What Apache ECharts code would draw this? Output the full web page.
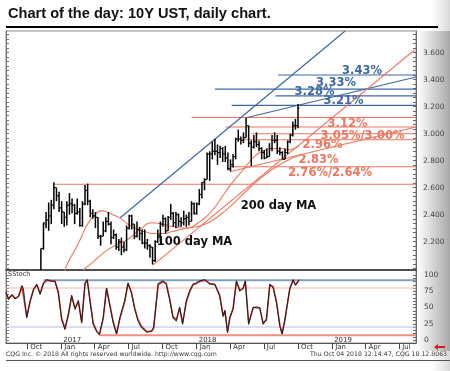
<!DOCTYPE html>
<html><head><meta charset="utf-8">
<script src="https://cdn.jsdelivr.net/npm/echarts@6/dist/echarts.min.js"></script>
<style>html,body{margin:0;padding:0;background:#fff;overflow:hidden}#c{width:450px;height:371px}</style>
</head><body><div id="c"></div><script>
// ---- price (weekly OHLC, yield %) ----
var weekDates = ['2016-11-07','2016-11-14','2016-11-21','2016-11-28','2016-12-05','2016-12-12','2016-12-19','2016-12-26',
'2017-01-02','2017-01-09','2017-01-16','2017-01-23','2017-01-30','2017-02-06','2017-02-13','2017-02-20','2017-02-27','2017-03-06','2017-03-13','2017-03-20','2017-03-27',
'2017-04-03','2017-04-10','2017-04-17','2017-04-24','2017-05-01','2017-05-08','2017-05-15','2017-05-22','2017-05-29','2017-06-05','2017-06-12','2017-06-19','2017-06-26',
'2017-07-03','2017-07-10','2017-07-17','2017-07-24','2017-07-31','2017-08-07','2017-08-14','2017-08-21','2017-08-28','2017-09-04','2017-09-11','2017-09-18','2017-09-25',
'2017-10-02','2017-10-09','2017-10-16','2017-10-23','2017-10-30','2017-11-06','2017-11-13','2017-11-20','2017-11-27','2017-12-04','2017-12-11','2017-12-18','2017-12-25',
'2018-01-01','2018-01-08','2018-01-15','2018-01-22','2018-01-29','2018-02-05','2018-02-12','2018-02-19','2018-02-26','2018-03-05','2018-03-12','2018-03-19','2018-03-26',
'2018-04-02','2018-04-09','2018-04-16','2018-04-23','2018-04-30','2018-05-07','2018-05-14','2018-05-21','2018-05-28','2018-06-04','2018-06-11','2018-06-18','2018-06-25',
'2018-07-02','2018-07-09','2018-07-16','2018-07-23','2018-07-30','2018-08-06','2018-08-13','2018-08-20','2018-08-27','2018-09-03','2018-09-10','2018-09-17','2018-09-24','2018-10-01'];
var opens  = [1.78,2.15,2.33,2.36,2.39,2.47,2.60,2.54, 2.45,2.42,2.38,2.47,2.48,2.47,2.41,2.42,2.32,2.48,2.58,2.50,2.41, 2.39,2.38,2.24,2.24,2.28,2.35,2.33,2.23,2.25,2.16,2.20,2.16,2.14, 2.30,2.39,2.33,2.24,2.29,2.26,2.19,2.19,2.17,2.16,2.06,2.20,2.25, 2.33,2.37,2.28,2.38,2.41,2.34,2.40,2.35,2.34,2.37,2.38,2.35,2.48, 2.41,2.48,2.55,2.64,2.66,2.85,2.85,2.87,2.87,2.86,2.89,2.85,2.82, 2.74,2.77,2.83,2.96,2.96,2.95,2.97,3.06,2.93,2.90,2.94,2.92,2.89, 2.86,2.82,2.83,2.89,2.95,2.95,2.87,2.86,2.81,2.86,2.94,2.99,3.06,3.06];
var highs  = [2.15,2.34,2.42,2.49,2.51,2.64,2.60,2.57, 2.50,2.42,2.50,2.56,2.52,2.48,2.52,2.45,2.50,2.62,2.63,2.51,2.44, 2.42,2.38,2.25,2.35,2.38,2.42,2.35,2.29,2.26,2.22,2.23,2.20,2.32, 2.40,2.40,2.33,2.35,2.31,2.29,2.29,2.22,2.18,2.16,2.21,2.29,2.35, 2.40,2.38,2.39,2.48,2.42,2.42,2.41,2.38,2.43,2.40,2.42,2.50,2.49, 2.49,2.59,2.64,2.67,2.86,2.87,2.94,2.96,2.92,2.91,2.90,2.91,2.86, 2.81,2.85,2.97,3.03,2.98,3.01,3.12,3.06,2.95,2.99,3.01,2.95,2.90, 2.88,2.89,2.93,2.99,3.01,2.99,2.90,2.87,2.89,2.95,3.00,3.09,3.11,3.22];
var lows   = [1.76,2.14,2.30,2.28,2.33,2.44,2.50,2.42, 2.33,2.31,2.32,2.40,2.41,2.33,2.40,2.31,2.31,2.47,2.47,2.38,2.37, 2.30,2.22,2.17,2.24,2.27,2.32,2.18,2.22,2.14,2.13,2.10,2.12,2.13, 2.29,2.29,2.22,2.23,2.21,2.18,2.15,2.14,2.08,2.03,2.05,2.19,2.20, 2.31,2.26,2.28,2.36,2.31,2.30,2.31,2.31,2.32,2.31,2.32,2.35,2.40, 2.40,2.47,2.52,2.58,2.66,2.65,2.81,2.84,2.77,2.82,2.79,2.79,2.73, 2.72,2.75,2.81,2.94,2.92,2.93,2.97,2.90,2.76,2.89,2.90,2.87,2.81, 2.81,2.82,2.83,2.87,2.93,2.85,2.84,2.81,2.81,2.85,2.93,2.98,3.03,3.04];
var closes = [2.15,2.34,2.36,2.39,2.47,2.60,2.54,2.45, 2.42,2.38,2.47,2.48,2.47,2.41,2.42,2.32,2.48,2.58,2.50,2.41,2.39, 2.38,2.24,2.24,2.28,2.35,2.33,2.23,2.25,2.16,2.20,2.16,2.14,2.30, 2.39,2.33,2.24,2.29,2.26,2.19,2.19,2.17,2.16,2.06,2.20,2.25,2.33, 2.37,2.28,2.38,2.41,2.34,2.40,2.35,2.34,2.37,2.38,2.35,2.48,2.41, 2.48,2.55,2.64,2.66,2.85,2.85,2.87,2.87,2.86,2.89,2.85,2.82,2.74, 2.77,2.83,2.96,2.96,2.95,2.97,3.06,2.93,2.90,2.94,2.92,2.89,2.86, 2.82,2.83,2.89,2.95,2.95,2.87,2.86,2.81,2.86,2.94,2.99,3.06,3.06,3.19];

// ---- moving averages ----
var ma100Dates = ['2016-12-20','2017-01-05','2017-01-20','2017-02-05','2017-02-20','2017-03-05','2017-03-20','2017-04-05','2017-04-20','2017-05-05','2017-05-20','2017-06-05','2017-06-20','2017-07-05','2017-07-20','2017-08-05','2017-08-20','2017-09-05','2017-09-20','2017-10-05','2017-10-20','2017-11-05','2017-11-20','2017-12-05','2017-12-20','2018-01-05','2018-01-20','2018-02-05','2018-02-20','2018-03-05','2018-03-20','2018-04-05','2018-04-20','2018-05-05','2018-05-20','2018-06-05','2018-06-20','2018-07-05','2018-07-20','2018-08-05','2018-08-20','2018-09-05','2018-09-20','2018-10-04'];
var ma100Vals  = [1.88,1.96,2.05,2.13,2.21,2.29,2.36,2.41,2.43,2.42,2.40,2.38,2.35,2.32,2.30,2.28,2.27,2.26,2.26,2.26,2.27,2.28,2.29,2.30,2.31,2.34,2.37,2.41,2.46,2.51,2.57,2.63,2.68,2.73,2.78,2.83,2.86,2.88,2.89,2.89,2.89,2.88,2.89,2.91];
var ma200Dates = ['2017-03-01','2017-04-01','2017-05-01','2017-06-01','2017-07-01','2017-08-01','2017-09-01','2017-10-01','2017-11-01','2017-12-01','2018-01-01','2018-02-01','2018-03-01','2018-04-01','2018-05-01','2018-06-01','2018-07-01','2018-08-01','2018-09-01','2018-10-04'];
var ma200Vals  = [1.99,2.06,2.13,2.18,2.22,2.29,2.34,2.33,2.31,2.30,2.31,2.34,2.39,2.46,2.54,2.62,2.69,2.75,2.80,2.84];

// ---- horizontal levels ----
var blueLevels = [3.435, 3.33, 3.28, 3.21];
var blueStarts = ['2018-08-08','2018-02-19','2018-08-01','2018-04-05'];
var redLevels  = [3.12, 3.05, 3.00, 2.955, 2.755, 2.625];
var redStarts  = ['2017-12-18','2018-03-20','2018-05-29','2018-05-01','2018-04-02','2016-12-14'];
var lineEnd = '2019-08-15';

// ---- trendlines [startDate, startVal], [endDate, endVal] ----
var blueTrend1 = [['2017-06-08', 2.375], ['2019-02-05', 3.761]];
var blueTrend2 = [['2018-05-17', 3.12], ['2019-08-15', 3.42]];
var redTrend1  = [['2017-09-07', 2.03], ['2019-08-11', 3.62]];
var redTrend2  = [['2018-04-02', 2.72], ['2019-08-15', 3.05]];

// ---- slow stochastic ----
var stochDates = ['2016-08-05','2016-08-12','2016-08-21','2016-08-30','2016-09-08','2016-09-17','2016-09-21','2016-09-30','2016-10-09','2016-10-18','2016-10-27','2016-11-05','2016-11-14','2016-11-23','2016-12-06','2016-12-15','2016-12-24',
'2017-01-02','2017-01-11','2017-01-20','2017-01-29','2017-02-07','2017-02-16','2017-02-25','2017-03-06','2017-03-12','2017-03-20','2017-03-28','2017-04-07','2017-04-14','2017-04-24','2017-05-03','2017-05-12','2017-05-21','2017-05-30','2017-06-08','2017-06-21','2017-06-30',
'2017-07-09','2017-07-18','2017-07-27','2017-08-05','2017-08-19','2017-09-01','2017-09-07','2017-09-19','2017-10-02','2017-10-11','2017-10-20','2017-10-29','2017-11-07','2017-11-16','2017-11-24','2017-12-04','2017-12-13','2017-12-22','2017-12-31',
'2018-01-09','2018-01-23','2018-02-05','2018-02-19','2018-03-04','2018-03-13','2018-03-18','2018-03-25','2018-03-31','2018-04-09','2018-04-18','2018-04-27','2018-05-06','2018-05-12','2018-05-21','2018-06-02','2018-06-11','2018-06-20','2018-06-29',
'2018-07-08','2018-07-17','2018-07-26','2018-08-04','2018-08-13','2018-08-19','2018-08-26','2018-09-09','2018-09-18','2018-09-24','2018-10-04'];
var stochK = [74,62,70,63,68,84,79,34,60,78,86,70,88,93,90,91,72, 31,16,40,69,47,61,26,88,93,57,24,12,8,35,80,52,26,9,35,61,88, 72,47,29,19,12,14,20,87,91,85,62,34,29,51,24,61,76,86,88, 91,93,86,86,67,36,46,11,35,47,91,75,80,91,24, 51,49,50,24,33,86,80,57,21,9,30,80,93,84,93];
var stochD = [72,64,69,64,67,82,80,36,59,77,85,72,87,92,91,90,74, 33,18,38,67,49,59,28,87,92,59,26,13,9,33,79,54,28,10,33,59,87, 74,49,31,21,13,13,18,85,90,87,64,36,31,49,26,59,74,85,87, 90,92,87,85,69,38,44,13,33,49,90,77,79,90,26, 49,51,49,26,31,85,82,59,23,10,28,79,92,85,92];

var stochHi = 92, stochLo = 7.5, stochBlueStart = '2016-11-14', stochRedStart = '2017-04-14';

var yTicks = [2.2, 2.4, 2.6, 2.8, 3.0, 3.2, 3.4, 3.6];
var stochTicks = [0, 25, 50, 75, 100];
var monthNames = ['Jan','Feb','Mar','Apr','May','Jun','Jul','Aug','Sep','Oct','Nov','Dec'];
var quarterTicks = ['2016-10-01','2017-01-01','2017-04-01','2017-07-01','2017-10-01','2018-01-01','2018-04-01','2018-07-01','2018-10-01','2019-01-01','2019-04-01','2019-07-01'];

function ts(s){ var p = s.split('-'); return new Date(+p[0], +p[1]-1, +p[2]).getTime(); }
var qTs = quarterTicks.map(ts);
var minorY = []; for (var k = 0; k <= 52; k++) minorY.push(2.0 + k / 30);
var minorS = []; for (var k = 0; k <= 20; k++) minorS.push(k * 5);

var X0 = ts('2016-08-05'), X1 = ts('2019-08-15');
var RED = '#ee765d', BLUE = '#3c68a6';

function seg(pts, color, w, xi, yi){
  return {type:'line', xAxisIndex:xi||0, yAxisIndex:yi||0, data:pts.map(function(p){return [ts(p[0]), p[1]];}),
    symbol:'none', lineStyle:{color:color, width:w||1}, silent:true, animation:false, clip:true, z:3};
}

var series = [];
blueLevels.forEach(function(v,i){ series.push(seg([[blueStarts[i], v],[lineEnd, v]], BLUE, 1.2)); });
redLevels.forEach(function(v,i){ series.push(seg([[redStarts[i], v],[lineEnd, v]], RED, 1.1)); });
series.push(seg(blueTrend1, BLUE, 1.2), seg(blueTrend2, BLUE, 1.2), seg(redTrend1, RED, 1.1), seg(redTrend2, RED, 1.1));
series.push({type:'line', data: ma100Dates.map(function(d,i){return [ts(d), ma100Vals[i]];}), smooth:true, symbol:'none', lineStyle:{color:RED,width:1.1}, clip:true, animation:false, z:3});
series.push({type:'line', data: ma200Dates.map(function(d,i){return [ts(d), ma200Vals[i]];}), smooth:true, symbol:'none', lineStyle:{color:RED,width:1.1}, clip:true, animation:false, z:3});
series.push({type:'custom', xAxisIndex:0, yAxisIndex:0, clip:true, animation:false, z:5,
  data: weekDates.map(function(d,i){ return [ts(d), opens[i], highs[i], lows[i], closes[i]]; }),
  encode:{x:0, y:[1,2,3,4]},
  renderItem:function(params, api){
    var x = api.value(0);
    var o = api.coord([x, api.value(1)]), h = api.coord([x, api.value(2)]),
        l = api.coord([x, api.value(3)]), c = api.coord([x, api.value(4)]);
    var st = {stroke:'#000', lineWidth:1.5};
    var st2 = {stroke:'#000', lineWidth:1};
    return {type:'group', children:[
      {type:'line', shape:{x1:h[0], y1:h[1], x2:l[0], y2:l[1]}, style:st},
      {type:'line', shape:{x1:o[0]-1.5, y1:o[1], x2:o[0], y2:o[1]}, style:st2},
      {type:'line', shape:{x1:c[0], y1:c[1], x2:c[0]+1.5, y2:c[1]}, style:st2}
    ]};
  }
});
// stochastic panel
series.push(seg([['2016-08-05',80],[lineEnd,80]], '#f4b4ac', 1, 1, 2));
series.push(seg([['2016-08-05',20],[lineEnd,20]], '#b8b8e8', 1, 1, 2));
series.push(seg([[stochBlueStart,stochHi],[lineEnd,stochHi]], '#7f9fc4', 2, 1, 2));
series.push(seg([[stochRedStart,stochLo],[lineEnd,stochLo]], '#f09080', 2, 1, 2));
series.push({type:'line', xAxisIndex:1, yAxisIndex:2, data: stochDates.map(function(d,i){return [ts(d), stochD[i]];}), symbol:'none', lineStyle:{color:'#c0302a', width:1.5}, clip:true, animation:false, z:4});
series.push({type:'line', xAxisIndex:1, yAxisIndex:2, data: stochDates.map(function(d,i){return [ts(d), stochK[i]];}), symbol:'none', lineStyle:{color:'#1a1a1a', width:0.9}, clip:true, animation:false, z:5});

var FONT = 'DejaVu Sans';
var LF = 'bold 11.5px "DejaVu Sans"';
function lbl(x, y, t, c){ return {type:'text', silent:true, z:10, style:{x:x, y:y, text:t, font:LF, fill:c, textAlign:'center', textVerticalAlign:'middle'}}; }
var chart = echarts.init(document.getElementById('c'), null, {renderer:'canvas'});
chart.setOption({
  animation:false,
  backgroundColor:'#fff',
  grid:[
    {left:6, top:31, width:410, height:239, show:true, borderColor:'#8a8a8a', borderWidth:1, backgroundColor:'transparent'},
    {left:6, top:270, width:410, height:73, show:true, borderColor:'#8a8a8a', borderWidth:1, backgroundColor:'transparent'}
  ],
  xAxis:[
    {type:'value', gridIndex:0, min:X0, max:X1, axisLine:{show:true, onZero:false, lineStyle:{color:'#333', width:1.5}}, axisTick:{show:false}, axisLabel:{show:false}, splitLine:{show:false}},
    {type:'value', gridIndex:1, min:X0, max:X1, axisLine:{show:true, onZero:false, lineStyle:{color:'#555', width:1}},
      axisTick:{show:true, customValues:qTs, length:6, lineStyle:{color:'#444'}},
      axisLabel:{show:true, customValues:qTs, margin:1, align:'left', padding:[0,0,0,3], fontSize:7, fontFamily:FONT, color:'#333', hideOverlap:false,
        formatter:function(v){ return monthNames[new Date(v).getMonth()]; }}, splitLine:{show:false}},
    {type:'value', gridIndex:1, min:X0, max:X1, position:'bottom', axisLine:{show:false, onZero:false}, axisTick:{show:false},
      axisLabel:{show:true, inside:true, customValues:qTs, margin:-1, align:'left', padding:[0,0,0,2], fontSize:7, fontFamily:FONT, color:'#333',
        formatter:function(v){ var d = new Date(v); return d.getMonth() === 0 ? String(d.getFullYear()) : ''; }}, splitLine:{show:false}}
  ],
  yAxis:[
    {type:'value', gridIndex:0, position:'right', min:1.99, max:3.761, axisLine:{show:true, lineStyle:{color:'#666'}},
      axisTick:{show:true, inside:true, length:3, customValues:minorY, lineStyle:{color:'#666'}},
      axisLabel:{show:true, customValues:yTicks, margin:7, fontSize:7.5, fontFamily:FONT, color:'#444', formatter:function(v){return v.toFixed(3);}}, splitLine:{show:false}},
    {type:'value', gridIndex:0, position:'left', min:1.99, max:3.761, axisLine:{show:true, lineStyle:{color:'#777'}},
      axisTick:{show:true, inside:true, length:3, customValues:minorY, lineStyle:{color:'#777'}}, axisLabel:{show:false}, splitLine:{show:false}},
    {type:'value', gridIndex:1, position:'right', min:-4.6, max:107.7, axisLine:{show:true, lineStyle:{color:'#666'}},
      axisTick:{show:true, inside:true, length:3, customValues:minorS, lineStyle:{color:'#666'}},
      axisLabel:{show:true, customValues:stochTicks, margin:8, fontSize:7.5, fontFamily:FONT, color:'#444'}, splitLine:{show:false}},
    {type:'value', gridIndex:1, position:'left', min:-4.6, max:107.7, axisLine:{show:true, lineStyle:{color:'#777'}},
      axisTick:{show:true, inside:true, length:3, customValues:minorS, lineStyle:{color:'#777'}}, axisLabel:{show:false}, splitLine:{show:false}}
  ],
  series: series,
  graphic:[
    {type:'rect', z:-100, silent:true, shape:{x:417, y:31, width:33, height:320}, style:{fill:new echarts.graphic.LinearGradient(0,0,1,0,[{offset:0,color:'#ffffff'},{offset:1,color:'#a9a9a9'}])}},
    {type:'rect', z:-101, silent:true, shape:{x:432, y:0, width:18, height:371}, style:{fill:new echarts.graphic.LinearGradient(0,0,1,0,[{offset:0,color:'#ffffff'},{offset:1,color:'#d9d9d9'}])}},
    {type:'text', silent:true, style:{x:8, y:14, text:'Chart of the day: 10Y UST, daily chart.', font:'bold 14.6px "Liberation Sans"', fill:'#111', textVerticalAlign:'middle'}},
    {type:'rect', silent:true, shape:{x:6, y:26, width:432, height:2}, style:{fill:'#000'}},
    {type:'rect', silent:true, shape:{x:6, y:360, width:444, height:1}, style:{fill:'#555'}},
    {type:'text', silent:true, style:{x:6, y:354, text:'CQG Inc. \u00a9 2018 All rights reserved worldwide. http://www.cqg.com', font:'6.2px "DejaVu Sans"', fill:'#333', textVerticalAlign:'middle'}},
    {type:'text', silent:true, style:{x:447, y:354, text:'Thu Oct 04 2018 12:14:47, CQG 18.12.8063', font:'6.2px "DejaVu Sans"', fill:'#333', textAlign:'right', textVerticalAlign:'middle'}},
    {type:'text', silent:true, style:{x:8, y:274.5, text:'SStoch', font:'6.5px "DejaVu Sans"', fill:'#333', textVerticalAlign:'middle'}},
    {type:'polygon', silent:true, shape:{points:[[434,347],[438,344],[438,346],[445,346],[445,348],[438,348],[438,350]]}, style:{fill:'#d42020'}},
    lbl(362, 71.5, '3.43%', BLUE),
    lbl(336, 83.5, '3.33%', BLUE),
    lbl(314.5, 92.5, '3.28%', BLUE),
    lbl(343.5, 101.5, '3.21%', BLUE),
    lbl(347.5, 124.5, '3.12%', RED),
    lbl(362.5, 136.5, '3.05%/3.00%', RED),
    lbl(322.5, 145.5, '2.96%', RED),
    lbl(318.5, 160.5, '2.83%', RED),
    lbl(330, 173, '2.76%/2.64%', RED),
    lbl(278.5, 206.5, '200 day MA', '#111'),
    lbl(194.5, 242, '100 day MA', '#111')
  ]
});
</script></body></html>
